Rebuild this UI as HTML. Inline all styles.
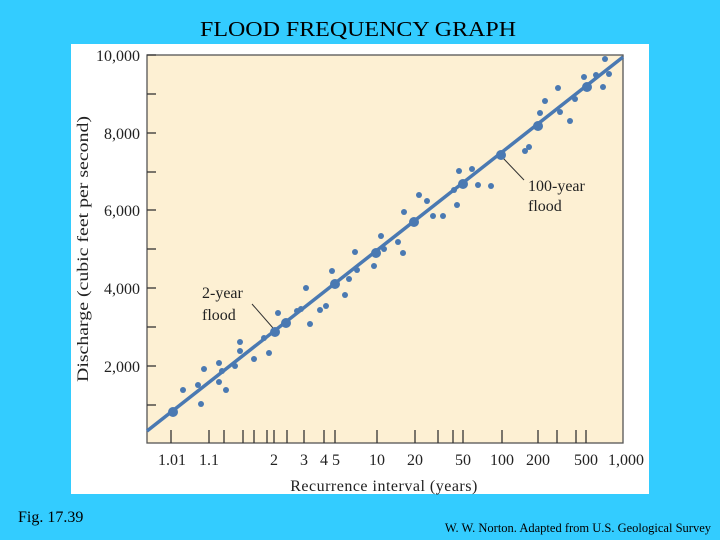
<!DOCTYPE html>
<html><head><meta charset="utf-8"><style>
html,body{margin:0;padding:0;width:720px;height:540px;overflow:hidden;background:#33ccff}
</style></head><body>
<svg width="720" height="540" viewBox="0 0 720 540" xmlns="http://www.w3.org/2000/svg" font-family="Liberation Serif, serif">
<rect x="0" y="0" width="720" height="540" fill="#33ccff"/>
<text x="358" y="36" font-size="21" text-anchor="middle" textLength="316" lengthAdjust="spacingAndGlyphs" fill="#000">FLOOD FREQUENCY GRAPH</text>
<rect x="71" y="44" width="578" height="450" fill="#fff"/>
<rect x="147" y="55" width="476" height="388" fill="#fdf0d3" stroke="#555" stroke-width="1.3"/>
<g stroke="#333" stroke-width="1.3">
<line x1="147" y1="55" x2="156" y2="55"/><line x1="147" y1="94" x2="156" y2="94"/>
<line x1="147" y1="133" x2="156" y2="133"/><line x1="147" y1="172" x2="156" y2="172"/>
<line x1="147" y1="210" x2="156" y2="210"/><line x1="147" y1="249" x2="156" y2="249"/>
<line x1="147" y1="288" x2="156" y2="288"/><line x1="147" y1="327" x2="156" y2="327"/>
<line x1="147" y1="366" x2="156" y2="366"/><line x1="147" y1="405" x2="156" y2="405"/>
</g>
<g stroke="#333" stroke-width="1.3">
<line x1="171" y1="430" x2="171" y2="443"/><line x1="209" y1="430" x2="209" y2="443"/>
<line x1="224" y1="430" x2="224" y2="443"/><line x1="243" y1="430" x2="243" y2="443"/>
<line x1="254" y1="430" x2="254" y2="443"/><line x1="267" y1="430" x2="267" y2="443"/>
<line x1="274" y1="430" x2="274" y2="443"/><line x1="287" y1="430" x2="287" y2="443"/>
<line x1="304" y1="430" x2="304" y2="443"/><line x1="324" y1="430" x2="324" y2="443"/>
<line x1="335" y1="430" x2="335" y2="443"/><line x1="377" y1="430" x2="377" y2="443"/>
<line x1="415" y1="430" x2="415" y2="443"/><line x1="438" y1="430" x2="438" y2="443"/>
<line x1="453" y1="430" x2="453" y2="443"/><line x1="463" y1="430" x2="463" y2="443"/>
<line x1="502" y1="430" x2="502" y2="443"/><line x1="538" y1="430" x2="538" y2="443"/>
<line x1="557" y1="430" x2="557" y2="443"/><line x1="576" y1="430" x2="576" y2="443"/>
<line x1="586" y1="430" x2="586" y2="443"/>
</g>
<g font-size="16" fill="#222" text-anchor="end">
<text x="140" y="61">10,000</text><text x="140" y="139">8,000</text>
<text x="140" y="216">6,000</text><text x="140" y="294">4,000</text>
<text x="140" y="372">2,000</text>
</g>
<g font-size="16" fill="#222" text-anchor="middle">
<text x="172" y="465">1.01</text><text x="209" y="465">1.1</text>
<text x="274" y="465">2</text><text x="304" y="465">3</text>
<text x="330" y="465">4 5</text><text x="377" y="465">10</text>
<text x="415" y="465">20</text><text x="463" y="465">50</text>
<text x="502" y="465">100</text><text x="538" y="465">200</text>
<text x="586" y="465">500</text><text x="626" y="465">1,000</text>
</g>
<text x="384" y="491" font-size="16" fill="#222" text-anchor="middle" letter-spacing="0.5">Recurrence interval (years)</text>
<text transform="translate(88,249) rotate(-90)" font-size="16" fill="#222" text-anchor="middle" textLength="266" lengthAdjust="spacingAndGlyphs">Discharge (cubic feet per second)</text>
<line x1="147" y1="431" x2="623" y2="57" stroke="#4a79b2" stroke-width="3.5"/>
<g stroke="#333" stroke-width="1">
<line x1="252" y1="304" x2="273" y2="328"/><line x1="503" y1="158" x2="524" y2="180"/>
</g>
<g font-size="16" fill="#222">
<text x="202" y="298">2-year</text><text x="202" y="320">flood</text>
<text x="528" y="191">100-year</text><text x="528" y="211">flood</text>
</g>
<g fill="#4a79b2">
<circle cx="183" cy="390" r="3"/><circle cx="198" cy="385" r="3"/><circle cx="201" cy="404" r="3"/>
<circle cx="204" cy="369" r="3"/><circle cx="219" cy="363" r="3"/><circle cx="219" cy="382" r="3"/>
<circle cx="222" cy="371" r="3"/><circle cx="226" cy="390" r="3"/><circle cx="235" cy="366" r="3"/>
<circle cx="240" cy="342" r="3"/><circle cx="240" cy="351" r="3"/><circle cx="254" cy="359" r="3"/>
<circle cx="264" cy="338" r="3"/><circle cx="269" cy="353" r="3"/><circle cx="278" cy="313" r="3"/>
<circle cx="297" cy="311" r="3"/><circle cx="301" cy="309" r="3"/><circle cx="306" cy="288" r="3"/>
<circle cx="310" cy="324" r="3"/><circle cx="320" cy="310" r="3"/><circle cx="326" cy="306" r="3"/>
<circle cx="332" cy="271" r="3"/><circle cx="345" cy="295" r="3"/><circle cx="349" cy="279" r="3"/>
<circle cx="355" cy="252" r="3"/><circle cx="357" cy="270" r="3"/><circle cx="374" cy="266" r="3"/>
<circle cx="381" cy="236" r="3"/><circle cx="384" cy="249" r="3"/><circle cx="398" cy="242" r="3"/>
<circle cx="403" cy="253" r="3"/><circle cx="404" cy="212" r="3"/>
<circle cx="419" cy="195" r="3"/><circle cx="427" cy="201" r="3"/><circle cx="433" cy="216" r="3"/>
<circle cx="443" cy="216" r="3"/><circle cx="454" cy="190" r="3"/><circle cx="457" cy="205" r="3"/>
<circle cx="459" cy="171" r="3"/><circle cx="472" cy="169" r="3"/><circle cx="478" cy="185" r="3"/>
<circle cx="491" cy="186" r="3"/><circle cx="525" cy="151" r="3"/><circle cx="529" cy="147" r="3"/>
<circle cx="540" cy="113" r="3"/><circle cx="545" cy="101" r="3"/><circle cx="558" cy="88" r="3"/>
<circle cx="560" cy="112" r="3"/><circle cx="570" cy="121" r="3"/><circle cx="575" cy="99" r="3"/>
<circle cx="584" cy="77" r="3"/><circle cx="596" cy="75" r="3"/><circle cx="603" cy="87" r="3"/>
<circle cx="609" cy="74" r="3"/><circle cx="605" cy="59" r="3"/>
<circle cx="173" cy="412" r="5"/><circle cx="275" cy="332" r="5"/><circle cx="286" cy="323" r="5"/>
<circle cx="335" cy="284" r="5"/><circle cx="376" cy="253" r="5"/><circle cx="414" cy="222" r="5"/>
<circle cx="463" cy="184" r="5"/><circle cx="501" cy="155" r="5"/><circle cx="538" cy="126" r="5"/>
<circle cx="587" cy="87" r="5"/>
</g>
<text x="18" y="522" font-size="16" fill="#000">Fig. 17.39</text>
<text x="711" y="532" font-size="12.5" fill="#000" text-anchor="end">W. W. Norton. Adapted from U.S. Geological Survey</text>
</svg>
</body></html>
